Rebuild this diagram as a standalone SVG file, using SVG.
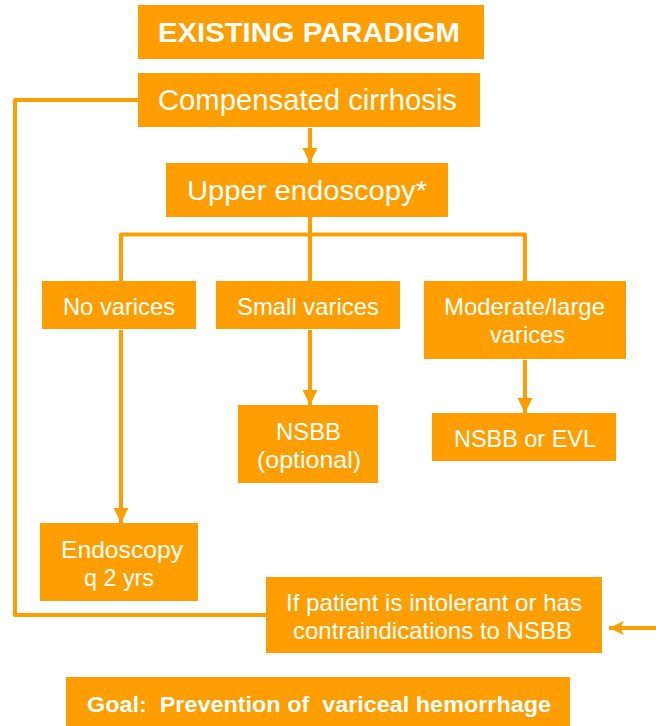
<svg xmlns="http://www.w3.org/2000/svg" width="656" height="726" viewBox="0 0 656 726">
<defs>
<style>
.box{fill:#FF9E00;}
.t{fill:#fff;font-family:"Liberation Sans",Arial,sans-serif;text-anchor:middle;}
.b{font-weight:bold;}
.c{fill:none;stroke:#FF9E00;stroke-width:4;stroke-linejoin:round;}
</style>
<marker id="ah" markerUnits="userSpaceOnUse" markerWidth="16" markerHeight="16" refX="15" refY="8" orient="auto">
<path d="M0,0.5 L15,8 L0,15.5 z" fill="#FF9E00"/>
</marker>
<marker id="ah2" markerUnits="userSpaceOnUse" markerWidth="16" markerHeight="16" refX="15" refY="8" orient="auto">
<path d="M0,1 L15,8 L0,15 L4,8 z" fill="#FF9E00"/>
</marker>
</defs>
<rect width="656" height="726" fill="#fff"/>
<g id="connectors">
<path class="c" d="M138,100 H15 V615 H266"/>
<path class="c" d="M310,128 V163" marker-end="url(#ah)"/>
<path class="c" d="M310,217 V281"/>
<path class="c" d="M121,281 V234.5 H525 V281"/>
<path class="c" d="M310,330 V405" marker-end="url(#ah)"/>
<path class="c" d="M525,360 V413" marker-end="url(#ah)"/>
<path class="c" d="M121,330 V523" marker-end="url(#ah)"/>
<path class="c" d="M656,628 H609" marker-end="url(#ah2)"/>
</g>
<g id="title">
<rect class="box" x="138" y="5" width="346" height="54"/>
<text class="t b" x="309" y="42" font-size="28" textLength="302" lengthAdjust="spacingAndGlyphs">EXISTING PARADIGM</text>
</g>
<g id="compensated">
<rect class="box" x="138" y="73" width="342" height="54"/>
<text class="t" x="307.5" y="110" font-size="29" textLength="299" lengthAdjust="spacingAndGlyphs">Compensated cirrhosis</text>
</g>
<g id="upper">
<rect class="box" x="166" y="163" width="282" height="54"/>
<text class="t" x="307" y="200" font-size="27" textLength="240" lengthAdjust="spacingAndGlyphs">Upper endoscopy*</text>
</g>
<g id="novarices">
<rect class="box" x="42" y="281" width="154" height="48"/>
<text class="t" x="119" y="315" font-size="24" textLength="112" lengthAdjust="spacingAndGlyphs">No varices</text>
</g>
<g id="small">
<rect class="box" x="216" y="281" width="184" height="48"/>
<text class="t" x="308" y="315" font-size="24" textLength="142" lengthAdjust="spacingAndGlyphs">Small varices</text>
</g>
<g id="moderate">
<rect class="box" x="424" y="281" width="202" height="78"/>
<text class="t" x="524.5" y="315" font-size="24" textLength="161" lengthAdjust="spacingAndGlyphs">Moderate/large</text>
<text class="t" x="527.5" y="343" font-size="24" textLength="75" lengthAdjust="spacingAndGlyphs">varices</text>
</g>
<g id="nsbb">
<rect class="box" x="238" y="405" width="140" height="78"/>
<text class="t" x="308.5" y="440" font-size="24" textLength="65" lengthAdjust="spacingAndGlyphs">NSBB</text>
<text class="t" x="309" y="468" font-size="24" textLength="104" lengthAdjust="spacingAndGlyphs">(optional)</text>
</g>
<g id="nsbbevl">
<rect class="box" x="432" y="413" width="184" height="48"/>
<text class="t" x="525" y="447" font-size="24" textLength="142" lengthAdjust="spacingAndGlyphs">NSBB or EVL</text>
</g>
<g id="endoscopy">
<rect class="box" x="40" y="523" width="158" height="78"/>
<text class="t" x="122" y="558" font-size="24" textLength="122" lengthAdjust="spacingAndGlyphs">Endoscopy</text>
<text class="t" x="119" y="586" font-size="24" textLength="70" lengthAdjust="spacingAndGlyphs">q 2 yrs</text>
</g>
<g id="intolerant">
<rect class="box" x="266" y="577" width="336" height="76"/>
<text class="t" x="434" y="611" font-size="24" textLength="296" lengthAdjust="spacingAndGlyphs">If patient is intolerant or has</text>
<text class="t" x="432.5" y="639" font-size="24" textLength="279" lengthAdjust="spacingAndGlyphs">contraindications to NSBB</text>
</g>
<g id="goal">
<rect class="box" x="66" y="677" width="504" height="49"/>
<text class="t b" x="319" y="712" font-size="22" textLength="464" lengthAdjust="spacingAndGlyphs" style="white-space:pre">Goal:  Prevention of  variceal hemorrhage</text>
</g>
</svg>
